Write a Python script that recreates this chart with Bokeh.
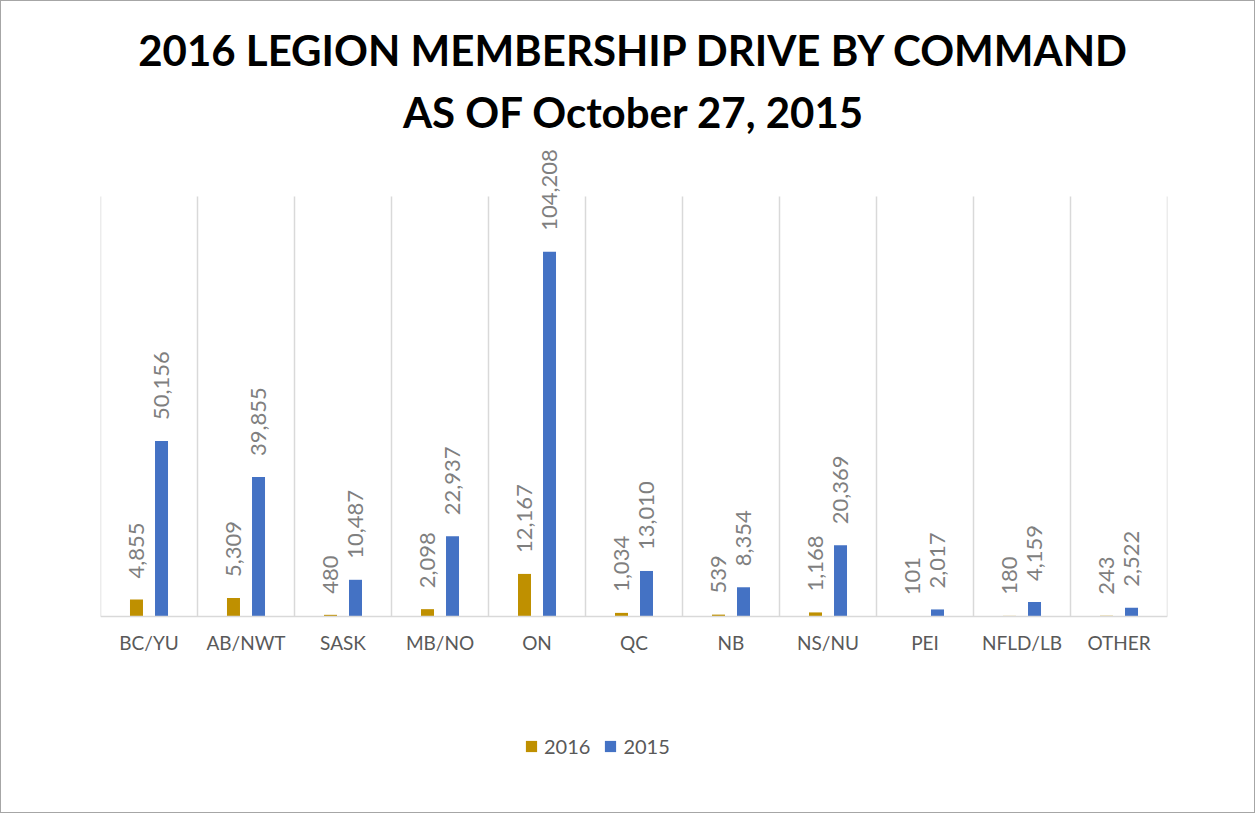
import numpy as np
from bokeh.plotting import figure
from bokeh.models import ColumnDataSource, Range1d, FixedTicker, Title, Legend, LegendItem
from bokeh.embed import file_html
from bokeh.resources import INLINE
from bokeh.core.properties import value

categories = ["BC/YU", "AB/NWT", "SASK", "MB/NO", "ON", "QC", "NB", "NS/NU", "PEI", "NFLD/LB", "OTHER"]
values_2016 = [4855, 5309, 480, 2098, 12167, 1034, 539, 1168, 101, 180, 243]
values_2015 = [50156, 39855, 10487, 22937, 104208, 13010, 8354, 20369, 2017, 4159, 2522]
series_names = ["2016", "2015"]
title_line1 = "2016 LEGION MEMBERSHIP DRIVE BY COMMAND"
title_line2 = "AS OF October 27, 2015"
Y_AXIS_MAX = 120000

GOLD = "#BF9000"
BLUE = "#4472C4"

# layout (pixels)
W, H = 1255, 813
FRAME_TOP, GRID_TOP, BASE, FRAME_BOTTOM = 146, 196, 616, 769
scale = (BASE - GRID_TOP) / Y_AXIS_MAX
y_start = -(FRAME_BOTTOM - BASE) / scale
y_end = (BASE - FRAME_TOP) / scale

n = len(categories)
centers = np.arange(n) + 0.5
dx = 0.129
bw = 0.134

src = ColumnDataSource(dict(
    x16=centers - dx, x15=centers + dx,
    v16=values_2016, v15=values_2015,
    l16=[f"{v:,}" for v in values_2016],
    l15=[f"{v:,}" for v in values_2015],
))

p = figure(width=W, height=H, output_backend="svg", toolbar_location=None,
           x_range=Range1d(0, n), y_range=Range1d(y_start, y_end),
           y_axis_location=None, title=None,
           min_border_left=99, min_border_right=89,
           min_border_top=FRAME_TOP - 1, min_border_bottom=H + 1 - FRAME_BOTTOM)
p.styles = {"border": "1px solid #A6A6A6"}
p.outline_line_color = None
p.background_fill_color = "white"
p.border_fill_color = "white"
p.xgrid.grid_line_color = None
p.ygrid.grid_line_color = None

# category separators (vertical gridlines)
bounds = np.arange(n + 1)
p.segment(x0=bounds, y0=np.zeros(n + 1), x1=bounds, y1=np.full(n + 1, Y_AXIS_MAX),
          line_color="#D9D9D9", line_width=1.5)

r16 = p.vbar(x="x16", top="v16", width=bw, source=src, fill_color=GOLD, line_color=None)
r15 = p.vbar(x="x15", top="v15", width=bw, source=src, fill_color=BLUE, line_color=None)

for xf, yf, lf in (("x16", "v16", "l16"), ("x15", "v15", "l15")):
    p.text(x=xf, y=yf, text=lf, source=src, angle=np.pi / 2,
           text_align="left", text_baseline="middle", y_offset=-21,
           text_font=value("Lato"), text_font_size="22px", text_color="#7F7F7F")

ax = p.xaxis[0]
ax.fixed_location = 0
ax.ticker = FixedTicker(ticks=list(centers))
ax.major_label_overrides = {float(c): cat for c, cat in zip(centers, categories)}
ax.axis_line_color = "#D9D9D9"
ax.axis_line_width = 1.5
ax.major_tick_line_color = None
ax.minor_tick_line_color = None
ax.major_label_text_font = "Lato"
ax.major_label_text_font_size = "19px"
ax.major_label_text_color = "#595959"
ax.major_label_standoff = 8

t2 = Title(text=title_line2, align="center", text_font="Lato", text_font_size="42px",
           text_font_style="bold", text_color="black", standoff=20)
p.add_layout(t2, "above")
t1 = Title(text=title_line1, align="center", text_font="Lato", text_font_size="42px",
           text_font_style="bold", text_color="black", standoff=0)
p.add_layout(t1, "above")

legend = Legend(items=[LegendItem(label=series_names[0], renderers=[r16]),
                       LegendItem(label=series_names[1], renderers=[r15])],
                orientation="horizontal", location=(424, 11),
                glyph_width=14, glyph_height=14, label_standoff=6, spacing=13,
                label_text_font="Lato", label_text_font_size="20px", label_text_color="#595959",
                border_line_color=None, background_fill_alpha=0, padding=0, margin=0)
p.add_layout(legend, "center")

open("out.html", "w").write(file_html(p, INLINE))
